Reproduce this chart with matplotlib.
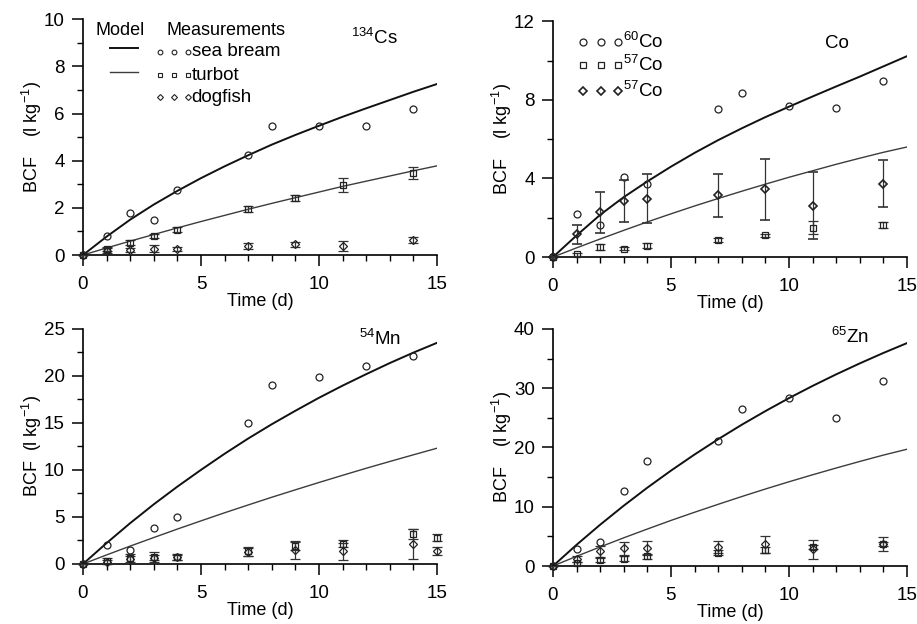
import numpy as np
import matplotlib.pyplot as plt
from matplotlib.ticker import MultipleLocator

plt.rcParams['font.family'] = ['Liberation Sans', 'DejaVu Sans']
plt.rcParams['mathtext.fontset'] = 'custom'
plt.rcParams['mathtext.rm'] = 'Liberation Sans'
plt.rcParams['mathtext.it'] = 'Liberation Sans:italic'

# time axes
t_model = list(range(16))
t_bream = [0, 1, 2, 3, 4, 7, 8, 10, 12, 14]
t_fish = [0, 1, 2, 3, 4, 7, 9, 11, 14]
t_fish_mn = [0, 1, 2, 3, 4, 7, 9, 11, 14, 15]

# 134Cs
cs_model_bream = [0, 0.78, 1.5, 2.14, 2.72, 3.26, 3.76, 4.23, 4.68, 5.09, 5.48, 5.86, 6.22, 6.57, 6.92, 7.25]
cs_model_turbot = [0, 0.3, 0.59, 0.87, 1.15, 1.42, 1.68, 1.94, 2.19, 2.43, 2.67, 2.91, 3.13, 3.35, 3.57, 3.78]
cs_bream = [0, 0.82, 1.79, 1.5, 2.74, 4.24, 5.49, 5.45, 5.49, 6.18]
cs_turbot = [0, 0.27, 0.52, 0.81, 1.07, 1.94, 2.41, 2.96, 3.49]
cs_turbot_err = [0, 0.08, 0.1, 0.08, 0.1, 0.12, 0.14, 0.29, 0.25]
cs_dogfish = [0, 0.18, 0.21, 0.27, 0.27, 0.38, 0.45, 0.40, 0.64]
cs_dogfish_err = [0, 0.1, 0.1, 0.14, 0.08, 0.12, 0.12, 0.21, 0.13]

# Co
co_model_1 = [0, 1.1, 2.15, 3.05, 3.85, 4.6, 5.3, 5.95, 6.55, 7.12, 7.65, 8.17, 8.68, 9.18, 9.7, 10.22]
co_model_2 = [0, 0.47, 0.92, 1.36, 1.79, 2.2, 2.6, 2.98, 3.35, 3.71, 4.06, 4.39, 4.72, 5.03, 5.33, 5.6]
co60 = [0, 2.17, 1.63, 4.07, 3.7, 7.53, 8.34, 7.7, 7.56, 8.94]
co57_sq = [0, 0.14, 0.5, 0.43, 0.57, 0.87, 1.1, 1.49, 1.65]
co57_sq_err = [0, 0.06, 0.16, 0.08, 0.13, 0.1, 0.08, 0.33, 0.15]
co57_di = [0, 1.15, 2.27, 2.85, 2.97, 3.14, 3.45, 2.61, 3.74]
co57_di_err = [0, 0.47, 1.02, 1.08, 1.25, 1.1, 1.55, 1.7, 1.18]

# 54Mn
mn_model_bream = [0, 2.22, 4.34, 6.34, 8.22, 10.0, 11.71, 13.33, 14.85, 16.28, 17.66, 18.95, 20.17, 21.35, 22.46, 23.5]
mn_model_turbot = [0, 0.96, 1.9, 2.81, 3.71, 4.58, 5.44, 6.27, 7.09, 7.88, 8.66, 9.42, 10.17, 10.89, 11.6, 12.3]
mn_bream = [0, 1.99, 1.47, 3.79, 5.0, 15.0, 18.97, 19.82, 21.0, 22.1]
mn_turbot = [0, 0.3, 0.6, 0.72, 0.72, 1.33, 1.9, 2.14, 3.17, 2.8]
mn_turbot_err = [0, 0.3, 0.5, 0.5, 0.35, 0.5, 0.45, 0.36, 0.52, 0.38]
mn_dogfish = [0, 0.22, 0.5, 0.68, 0.7, 1.3, 1.49, 1.33, 2.11, 1.42]
mn_dogfish_err = [0, 0.2, 0.3, 0.3, 0.25, 0.4, 1.0, 0.9, 1.62, 0.42]

# 65Zn
zn_model_bream = [0, 3.58, 6.97, 10.18, 13.22, 16.09, 18.81, 21.39, 23.83, 26.13, 28.32, 30.38, 32.33, 34.18, 35.94, 37.6]
zn_model_turbot = [0, 1.64, 3.22, 4.76, 6.24, 7.69, 9.07, 10.41, 11.72, 12.99, 14.21, 15.39, 16.53, 17.64, 18.71, 19.7]
zn_bream = [0, 2.95, 3.98, 12.6, 17.68, 21.1, 26.55, 28.4, 24.97, 31.2]
zn_turbot = [0, 0.45, 1.0, 1.22, 1.63, 2.28, 2.65, 3.18, 3.72]
zn_turbot_err = [0, 0.3, 0.3, 0.4, 0.4, 0.45, 0.5, 0.35, 0.4]
zn_dogfish = [0, 1.2, 2.48, 2.96, 3.07, 3.26, 3.65, 2.85, 3.72]
zn_dogfish_err = [0, 0.5, 0.9, 1.1, 1.2, 1.0, 1.4, 1.6, 1.15]

BLACK = '#111111'
GRAY = '#3c3c3c'
EDGE = '#222222'
FS = 13


def setup_axes(ax, ymax, ymajor, yminor, ylabel='BCF    (l kg$^{-1}$)'):
    ax.set_xlim(0, 15)
    ax.set_ylim(0, ymax)
    for side in ['top', 'right']:
        ax.spines[side].set_visible(False)
    for side in ['left', 'bottom']:
        ax.spines[side].set_linewidth(1.2)
    ax.xaxis.set_major_locator(MultipleLocator(5))
    ax.xaxis.set_minor_locator(MultipleLocator(1))
    ax.yaxis.set_major_locator(MultipleLocator(ymajor))
    ax.yaxis.set_minor_locator(MultipleLocator(yminor))
    ax.tick_params(which='major', direction='out', length=8, width=1.1, labelsize=13.5)
    ax.tick_params(which='minor', direction='out', length=4.5, width=1.0)
    ax.tick_params(axis='x', which='major', pad=7)
    ax.tick_params(axis='y', which='major', pad=5)
    ax.set_xlabel('Time (d)', fontsize=FS, labelpad=0)
    ax.set_ylabel(ylabel, fontsize=FS, labelpad=0)


def draw_model(ax, y1, y2):
    ax.plot(t_model, y1, color=BLACK, lw=1.4)
    ax.plot(t_model, y2, color=GRAY, lw=1.0)


def draw_points(ax, t, y, err, marker, ms, mew=0.9):
    if err is None:
        ax.plot(t, y, marker, ms=ms, mfc='none', mec=EDGE, mew=mew, clip_on=False, zorder=4)
        return
    cont = ax.errorbar(t, y, yerr=err, fmt=marker, ms=ms, mfc='none', mec=EDGE, mew=mew,
                       ecolor='#333333', elinewidth=0.9, capsize=3.6, capthick=0.9, zorder=4)
    cont[0].set_clip_on(False)
    for c in cont[1]:
        c.set_clip_on(False)
    for c in cont[2]:
        c.set_clip_on(False)


fig = plt.figure(figsize=(9.17, 6.24), dpi=100)
ax1 = fig.add_axes([0.0905, 0.5913, 0.386, 0.378])
ax2 = fig.add_axes([0.603, 0.588, 0.386, 0.378])
ax3 = fig.add_axes([0.0905, 0.0962, 0.386, 0.377])
ax4 = fig.add_axes([0.603, 0.0929, 0.386, 0.380])

# 134Cs
setup_axes(ax1, 10, 2, 1)
draw_model(ax1, cs_model_bream, cs_model_turbot)
draw_points(ax1, t_bream, cs_bream, None, 'o', 5)
draw_points(ax1, t_fish, cs_turbot, cs_turbot_err, 's', 4)
draw_points(ax1, t_fish, cs_dogfish, cs_dogfish_err, 'D', 4.2)
ax1.text(0.756, 0.919, '$^{134}$Cs', transform=ax1.transAxes, fontsize=13.5, va='center')

# legend (model lines + measurement markers)
ax1.text(0.034, 0.953, 'Model', transform=ax1.transAxes, fontsize=13, va='center')
ax1.text(0.236, 0.953, 'Measurements', transform=ax1.transAxes, fontsize=13, va='center')
ax1.plot([0.076, 0.156], [0.878, 0.878], transform=ax1.transAxes, color=BLACK, lw=1.4)
ax1.plot([0.076, 0.156], [0.774, 0.774], transform=ax1.transAxes, color=GRAY, lw=1.0)
key_x = [0.2175, 0.258, 0.297]
for mk, ms, yk, lab in [('o', 3.4, 0.861, 'sea bream'), ('s', 3.0, 0.763, 'turbot'), ('D', 3.0, 0.668, 'dogfish')]:
    ax1.plot(key_x, [yk] * 3, mk, ms=ms, mfc='none', mec=EDGE, mew=0.8, transform=ax1.transAxes)
    ax1.text(0.307, yk, lab, transform=ax1.transAxes, fontsize=13.5, va='center')

# Co
setup_axes(ax2, 12, 4, 2)
draw_model(ax2, co_model_1, co_model_2)
draw_points(ax2, t_bream, co60, None, 'o', 5)
draw_points(ax2, t_fish, co57_sq, co57_sq_err, 's', 4)
draw_points(ax2, t_fish, co57_di, co57_di_err, 'D', 4.5, mew=1.2)
ax2.text(0.7675, 0.907, 'Co', transform=ax2.transAxes, fontsize=13.5, va='center')
key_x2 = [0.0847, 0.1347, 0.1845]
for mk, ms, mew, yk, lab in [('o', 5, 0.9, 0.91, '$^{60}$Co'), ('s', 4, 0.9, 0.814, '$^{57}$Co'),
                             ('D', 4.5, 1.2, 0.703, '$^{57}$Co')]:
    ax2.plot(key_x2, [yk] * 3, mk, ms=ms, mfc='none', mec=EDGE, mew=mew, transform=ax2.transAxes)
    ax2.text(0.1987, yk, lab, transform=ax2.transAxes, fontsize=13.5, va='center')

# 54Mn
setup_axes(ax3, 25, 5, 2.5, ylabel='BCF  (l kg$^{-1}$)')
draw_model(ax3, mn_model_bream, mn_model_turbot)
draw_points(ax3, t_bream, mn_bream, None, 'o', 5)
draw_points(ax3, t_fish_mn, mn_turbot, mn_turbot_err, 's', 4)
draw_points(ax3, t_fish_mn, mn_dogfish, mn_dogfish_err, 'D', 4.2)
ax3.text(0.78, 0.956, '$^{54}$Mn', transform=ax3.transAxes, fontsize=13.5, va='center')

# 65Zn
setup_axes(ax4, 40, 10, 5)
draw_model(ax4, zn_model_bream, zn_model_turbot)
draw_points(ax4, t_bream, zn_bream, None, 'o', 5)
draw_points(ax4, t_fish, zn_turbot, zn_turbot_err, 's', 4)
draw_points(ax4, t_fish, zn_dogfish, zn_dogfish_err, 'D', 4.2)
ax4.text(0.786, 0.9675, '$^{65}$Zn', transform=ax4.transAxes, fontsize=13.5, va='center')

fig.savefig('out.png', dpi=100)
